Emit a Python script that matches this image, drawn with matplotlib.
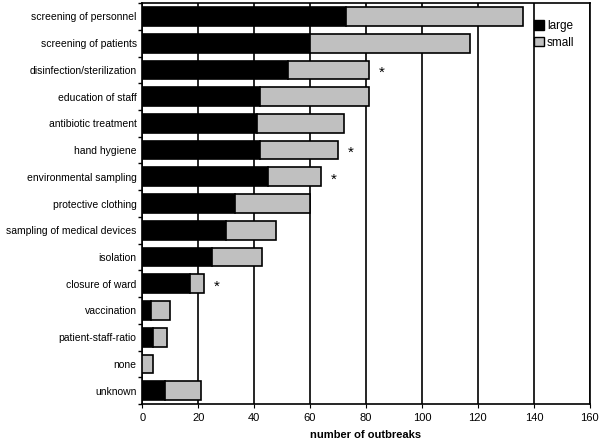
import numpy as np
import matplotlib.pyplot as plt
from matplotlib.patches import Patch

plt.rcParams['font.family'] = ['Liberation Sans', 'DejaVu Sans']

# measures, top to bottom
measures = ['screening of personnel', 'screening of patients', 'disinfection/sterilization',
            'education of staff', 'antibiotic treatment', 'hand hygiene',
            'environmental sampling', 'protective clothing', 'sampling of medical devices',
            'isolation', 'closure of ward', 'vaccination', 'patient-staff-ratio',
            'none', 'unknown']
large = [73, 60, 52, 42, 41, 42, 45, 33, 30, 25, 17, 3, 4, 0, 8]
small = [63, 57, 29, 39, 31, 28, 19, 27, 18, 18, 5, 7, 5, 4, 13]
starred = ['disinfection/sterilization', 'hand hygiene', 'environmental sampling', 'closure of ward']

fig = plt.figure(figsize=(6, 4.42), dpi=100)
ax = fig.add_axes([0.237, 0.086, 0.746, 0.907])

y = np.arange(len(measures))
ax.barh(y, large, height=0.7, color='black', edgecolor='black', linewidth=1.2, zorder=3)
ax.barh(y, small, left=large, height=0.7, color='#c0c0c0', edgecolor='black',
        linewidth=1.2, zorder=3)

# significance stars
for i, m in enumerate(measures):
    if m in starred:
        ax.text(large[i] + small[i] + 4.5, i + 0.1, '*', ha='center', va='center',
                fontsize=11, zorder=4)

ax.set_xlim(0, 160)
ax.set_ylim(len(measures) - 0.5, -0.5)
ax.set_xticks(np.arange(0, 161, 20))
ax.set_yticks(y)
ax.set_yticklabels(measures, fontsize=7.5)
ax.tick_params(axis='y', length=0, pad=4)
ax.set_yticks(np.arange(-0.5, len(measures), 1), minor=True)
ax.tick_params(axis='y', which='minor', length=3, width=1)
ax.tick_params(axis='x', labelsize=8, length=3)
ax.grid(axis='x', color='black', linewidth=1.2, zorder=0)
for s in ax.spines.values():
    s.set_linewidth(1.2)
ax.set_xlabel('number of outbreaks', fontsize=8, fontweight='bold', labelpad=5)

handles = [Patch(facecolor='black', edgecolor='black', label='large'),
           Patch(facecolor='#c0c0c0', edgecolor='black', label='small')]
ax.legend(handles=handles, loc='upper right', bbox_to_anchor=(0.995, 0.99), frameon=False,
          fontsize=8.5, handlelength=0.8, handleheight=0.8, handletextpad=0.3,
          labelspacing=0.4, borderpad=0.6)

fig.savefig('out.png', dpi=100)
